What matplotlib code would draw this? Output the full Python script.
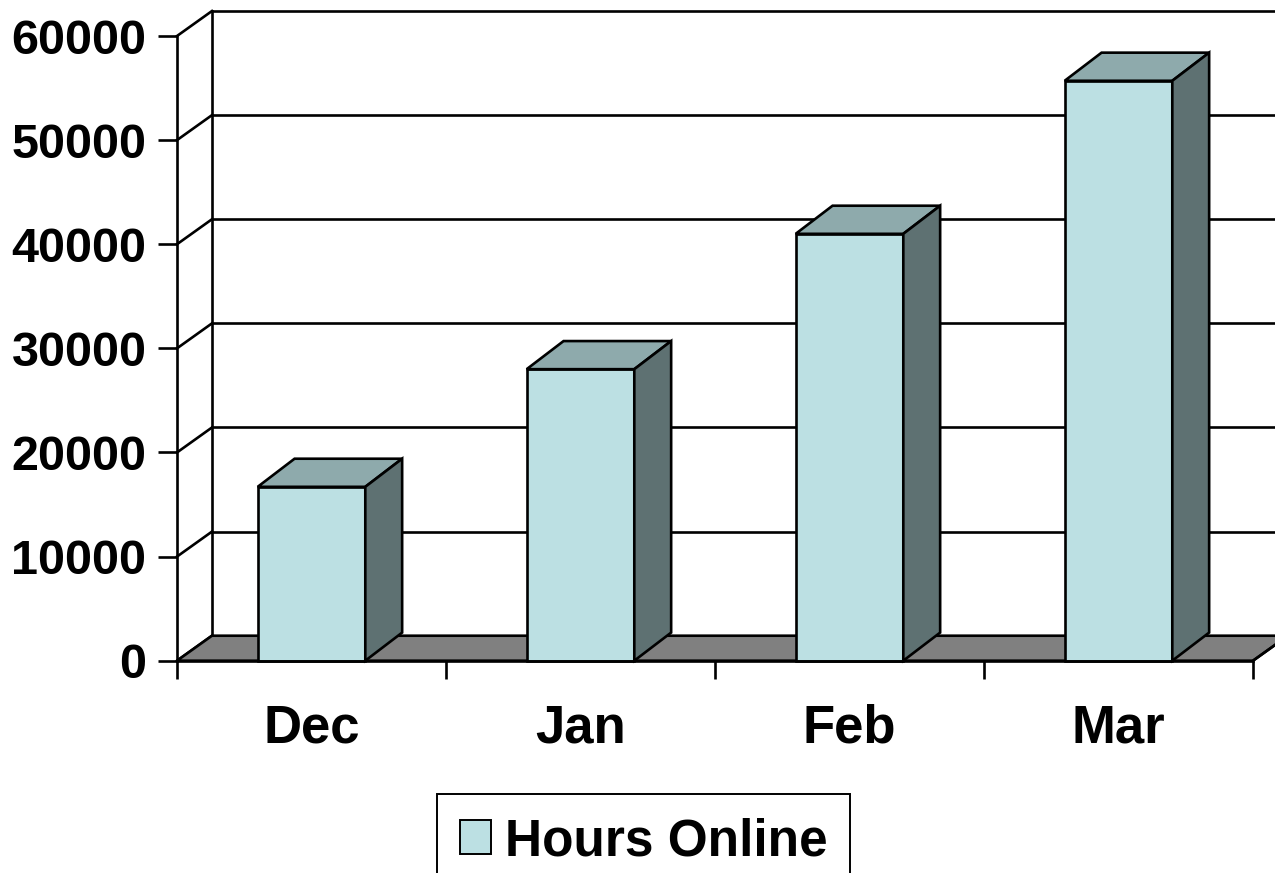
import matplotlib.pyplot as plt
from matplotlib.patches import Polygon, Patch

months = ['Dec', 'Jan', 'Feb', 'Mar']
hours = [16700, 28000, 41000, 55700]
yticks = [0, 10000, 20000, 30000, 40000, 50000, 60000]

front_c = '#bce0e3'
top_c = '#8eaaac'
side_c = '#5e7172'
floor_c = '#808080'

plt.rcParams['font.family'] = ['Liberation Sans', 'DejaVu Sans']
plt.rcParams['font.weight'] = 'bold'

fig = plt.figure(figsize=(12.75, 8.73), dpi=100)
ax = fig.add_axes([177/1275, 1 - 660.7/873, 1076/1275, 624.7/873])
ax.set_xlim(0, 4)
ax.set_ylim(0, 60000)
ax.patch.set_visible(False)

# depth of the 3d box, in data units
ddx, ddy = 0.13, 2400
bdx, bdy = 0.137, 2700
bw = 0.40
lw = 1.9

# back wall
ax.plot([ddx, ddx], [ddy, 60000 + ddy], color='k', lw=lw, clip_on=False)
for v in yticks:
    ax.plot([ddx, 4.3], [v + ddy, v + ddy], color='k', lw=lw, clip_on=False, zorder=1)
    ax.plot([0, ddx], [v, v + ddy], color='k', lw=lw, clip_on=False, zorder=1)

# floor
floor = Polygon([[0, 0], [4, 0], [4 + ddx, ddy], [ddx, ddy]], closed=True,
                facecolor=floor_c, edgecolor='k', lw=lw, clip_on=False, zorder=2)
ax.add_patch(floor)
ax.plot([4, 4 + ddx], [0, ddy], color='k', lw=lw, clip_on=False, zorder=2)

# bars
for i, h in enumerate(hours):
    x0 = i + 0.5 - bw / 2
    x1 = i + 0.5 + bw / 2
    front = Polygon([[x0, 0], [x1, 0], [x1, h], [x0, h]], closed=True,
                    facecolor=front_c, edgecolor='k', lw=lw, clip_on=False, zorder=3)
    top = Polygon([[x0, h], [x1, h], [x1 + bdx, h + bdy], [x0 + bdx, h + bdy]], closed=True,
                  facecolor=top_c, edgecolor='k', lw=lw, clip_on=False, zorder=3)
    side = Polygon([[x1, 0], [x1 + bdx, bdy], [x1 + bdx, h + bdy], [x1, h]], closed=True,
                   facecolor=side_c, edgecolor='k', lw=lw, clip_on=False, zorder=3)
    for p in (front, top, side):
        ax.add_patch(p)

# axes
for s in ['top', 'right', 'bottom']:
    ax.spines[s].set_visible(False)
ax.spines['left'].set_linewidth(lw)
ax.spines['left'].set_zorder(4)
ax.set_yticks(yticks)
ax.set_yticklabels([str(v) for v in yticks])
ax.tick_params(axis='y', length=14, width=lw, pad=8, labelsize=35)
ax.set_xticks([0, 1, 2, 3, 4])
ax.set_xticklabels([])
ax.set_xticks([0.5, 1.5, 2.5, 3.5], minor=True)
ax.set_xticklabels(months, minor=True)
ax.tick_params(axis='x', which='major', length=13, width=lw)
ax.tick_params(axis='x', which='minor', length=0, pad=31, labelsize=38)
ax.plot([0, 4], [0, 0], color='k', lw=lw, clip_on=False, zorder=4)

handle = Patch(facecolor=front_c, edgecolor='k', lw=1.4)
leg = fig.legend([handle], ['Hours Online'], loc='upper center',
                 bbox_to_anchor=(643.5/1275, 1 - 794/873), fontsize=37,
                 fancybox=False, framealpha=1, edgecolor='k',
                 handlelength=0.6, handleheight=0.64, handletextpad=0.27,
                 borderpad=0.45, borderaxespad=0)
leg.get_frame().set_linewidth(1.4)

fig.savefig('out.png', dpi=100)
